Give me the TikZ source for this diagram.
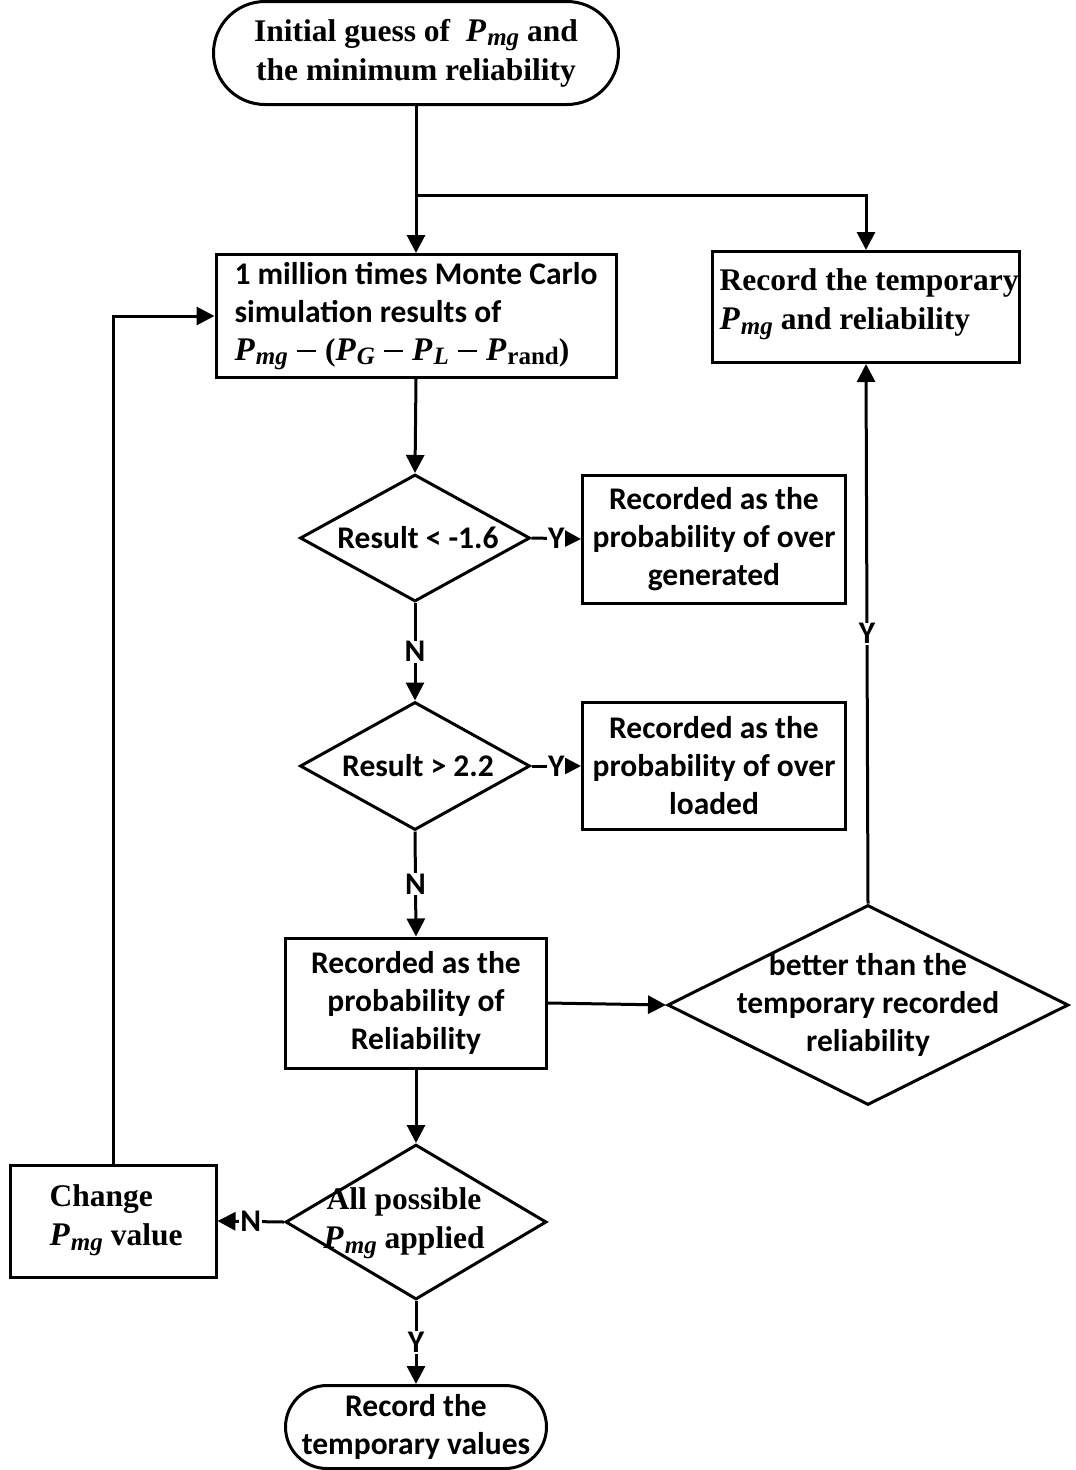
\documentclass[tikz,border=0pt]{standalone}
\usepackage{fontspec}
\setmainfont{Liberation Serif}
\newfontfamily\calibri{Carlito}
\usetikzlibrary{arrows.meta,shapes.geometric,shapes.misc}

% bold italic P with a subscript, set in the serif face
\newcommand\Psub[1]{{\fontsize{33}{33}\selectfont\bfseries\itshape P}\kern0.04em\raisebox{-0.32ex}{\fontsize{25}{25}\selectfont\bfseries\itshape #1}}
\newcommand\Prnd{{\fontsize{33}{33}\selectfont\bfseries\itshape P}\kern0.04em\raisebox{-0.32ex}{\fontsize{25}{25}\selectfont\bfseries rand}}
% long thin minus sign of the formula
\newcommand\mminus{\hspace{0.28em}\rule[0.27em]{0.62em}{1.6pt}\hspace{0.28em}}

\begin{document}
\begin{tikzpicture}[x=1pt,y=-1pt,
  serif/.style={font=\fontsize{31.5}{39}\selectfont\bfseries\rmfamily},
  sans/.style={font=\fontsize{31.5}{38}\selectfont\bfseries\calibri},
  proc/.style={draw,line width=3pt,rectangle,inner sep=0pt},
  term/.style={draw,line width=3pt,rounded rectangle,inner sep=0pt},
  dia/.style={draw,line width=3pt,diamond,inner sep=0pt},
  conn/.style={line width=3pt},
  arr/.style={conn,-{Triangle[length=18pt,width=18pt]}},
  lab/.style={sans,fill=white,inner sep=1pt}]
\path[use as bounding box] (0,0) rectangle (1076,1470);

% terminators and process boxes
\node[term,serif,minimum width=405pt,minimum height=103pt,align=center] (start) at (416,53)
  {Initial guess of \ \Psub{mg} and\\the minimum reliability};
\node[proc,minimum width=400pt,minimum height=123pt] (mc) at (416,316) {};
\node[sans,align=left,anchor=west] (mctxt) at (231,316)
  {1 million times Monte Carlo\\simulation results of\\\rmfamily\Psub{mg}\mminus(\Psub{G}\mminus\Psub{L}\mminus\Prnd)};
\node[proc,minimum width=307pt,minimum height=111pt] (rec) at (866,307) {};
\node[serif,align=left,anchor=west] (rectxt) at (716,304)
  {Record the temporary\\\Psub{mg} and reliability};

% decisions and recording boxes
\node[dia,minimum width=230pt,minimum height=127pt] (d1) at (415,538) {};
\node[sans] (d1txt) at (418,538) {Result < -1.6};
\node[proc,sans,minimum width=263pt,minimum height=128pt,align=center] (b1) at (714,539)
  {Recorded as the\\probability of over\\generated};
\node[dia,minimum width=230pt,minimum height=128pt] (d2) at (415,766) {};
\node[sans] (d2txt) at (418,766) {Result > 2.2};
\node[proc,sans,minimum width=263pt,minimum height=127pt,align=center] (b2) at (714,766)
  {Recorded as the\\probability of over\\loaded};
\node[proc,sans,minimum width=261pt,minimum height=130pt,align=center] (b3) at (416,1003)
  {Recorded as the\\probability of\\Reliability};
\node[dia,minimum width=401pt,minimum height=200pt] (d3) at (868,1005) {};
\node[sans,align=center] (d3txt) at (868,1005)
  {better than the\\temporary recorded\\reliability};
\node[dia,minimum width=261pt,minimum height=155pt] (d4) at (416,1222) {};
\node[serif,align=center] (d4txt) at (404,1223) {All possible\\\Psub{mg} applied};
\node[proc,minimum width=206pt,minimum height=112pt] (chg) at (113,1221) {};
\node[serif,align=left,anchor=west] (chgtxt) at (46,1220) {Change\\\Psub{mg} value};
\node[term,sans,minimum width=261pt,minimum height=83pt,align=center] (stop) at (416,1427)
  {Record the\\temporary values};

% connectors
\coordinate (j) at (416,195);
\draw[arr] (start.south) -- (mc.north);
\draw[arr] (j) -| (rec.north);
\draw[arr] (mc.south) -- (d1.north);
\draw[arr] (d1.east) -- node[lab]{Y} (b1.west);
\draw[arr] (d1.south) -- node[lab]{N} (d2.north);
\draw[arr] (d2.east) -- node[lab]{Y} (b2.west);
\draw[arr] (d2.south) -- node[lab]{N} (b3.north);
\draw[arr] (b3.east) -- (d3.west);
\draw[arr] (d3.north) -- node[lab]{Y} (rec.south);
\draw[arr] (b3.south) -- (d4.north);
\draw[arr] (d4.west) -- node[lab]{N} (chg.east);
\draw[arr] (chg.north) |- (mc.west);
\draw[arr] (d4.south) -- node[lab]{Y} (stop.north);
\end{tikzpicture}
\end{document}
